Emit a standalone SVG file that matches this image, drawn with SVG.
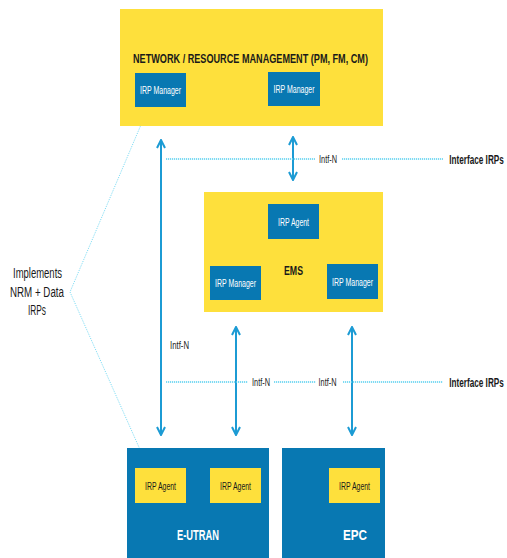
<svg xmlns="http://www.w3.org/2000/svg" width="507" height="558" viewBox="0 0 507 558">
<defs>
<style>
.yel{fill:#FEE03C}
.blu{fill:#0878B2}
.lw{font-family:"Liberation Sans",Arial,sans-serif;fill:#ffffff;text-anchor:middle}
.lk{font-family:"Liberation Sans",Arial,sans-serif;fill:#1a1a1a;text-anchor:middle}
.b{font-weight:bold}
.arr{stroke:#1C9BD4;stroke-width:2;fill:none;marker-start:url(#ah);marker-end:url(#ah)}
.dot{stroke:#55CFEF;stroke-width:1.5;stroke-dasharray:1.2 0.8;fill:none}
.dl{stroke:#7FDDF5;stroke-width:1;stroke-dasharray:1.2 1.2;fill:none}
</style>
<marker id="ah" viewBox="0 0 10 10" refX="9" refY="5" markerWidth="10" markerHeight="10" markerUnits="userSpaceOnUse" orient="auto-start-reverse">
<path d="M1,1 L9,5 L1,9" fill="none" stroke="#1C9BD4" stroke-width="2"/>
</marker>
</defs>
<rect width="507" height="558" fill="#ffffff"/>

<g id="connectors">
<line class="arr" x1="161" y1="140" x2="161" y2="435"/>
<line class="arr" x1="293" y1="137" x2="293" y2="180"/>
<line class="arr" x1="236" y1="327" x2="236" y2="435"/>
<line class="arr" x1="352" y1="327" x2="352" y2="435"/>
<line class="dot" x1="166" y1="159" x2="315" y2="159"/>
<line class="dot" x1="342" y1="159" x2="443" y2="159"/>
<line class="dot" x1="166" y1="382" x2="248" y2="382"/>
<line class="dot" x1="274" y1="382" x2="316" y2="382"/>
<line class="dot" x1="343" y1="382" x2="443" y2="382"/>
<polyline class="dl" points="146,113 70,292 146,463"/>
<text class="lk" x="328" y="163" font-size="11" textLength="18" lengthAdjust="spacingAndGlyphs">Intf-N</text>
<text class="lk" x="261" y="386" font-size="11" textLength="18" lengthAdjust="spacingAndGlyphs">Intf-N</text>
<text class="lk" x="327.5" y="386" font-size="11" textLength="18" lengthAdjust="spacingAndGlyphs">Intf-N</text>
<text class="lk" x="179.5" y="349" font-size="11" textLength="19" lengthAdjust="spacingAndGlyphs">Intf-N</text>
<text class="lk b" transform="translate(476.5,163.5) scale(1,1.45)" x="0" y="0" font-size="8.2">Interface IRPs</text>
<text class="lk b" transform="translate(476.5,386.5) scale(1,1.45)" x="0" y="0" font-size="8.2">Interface IRPs</text>
</g>

<g id="implements">
<text class="lk" x="37.5" y="278" font-size="14" textLength="49" lengthAdjust="spacingAndGlyphs">Implements</text>
<text class="lk" x="37" y="296.5" font-size="14" textLength="54" lengthAdjust="spacingAndGlyphs">NRM + Data</text>
<text class="lk" x="37" y="315" font-size="14" textLength="18" lengthAdjust="spacingAndGlyphs">IRPs</text>
</g>

<g id="nrm">
<rect class="yel" x="120" y="9" width="263" height="117"/>
<text class="lk b" x="250.5" y="62.5" font-size="13" textLength="235" lengthAdjust="spacingAndGlyphs">NETWORK / RESOURCE MANAGEMENT (PM, FM, CM)</text>
</g>
<g id="nrm-mgr1">
<rect class="blu" x="135" y="73" width="51" height="34"/>
<text class="lw" x="160.5" y="94" font-size="11" textLength="41" lengthAdjust="spacingAndGlyphs">IRP Manager</text>
</g>
<g id="nrm-mgr2">
<rect class="blu" x="268" y="72" width="52" height="34"/>
<text class="lw" x="294" y="93" font-size="11" textLength="41" lengthAdjust="spacingAndGlyphs">IRP Manager</text>
</g>

<g id="ems">
<rect class="yel" x="204" y="192" width="179" height="120"/>
<text class="lk b" x="293.5" y="274.5" font-size="13" textLength="19" lengthAdjust="spacingAndGlyphs">EMS</text>
</g>
<g id="ems-agent">
<rect class="blu" x="268" y="204" width="51" height="35"/>
<text class="lw" x="293.5" y="225.5" font-size="11" textLength="31" lengthAdjust="spacingAndGlyphs">IRP Agent</text>
</g>
<g id="ems-mgr1">
<rect class="blu" x="210" y="266" width="51" height="34"/>
<text class="lw" x="235.5" y="287" font-size="11" textLength="41" lengthAdjust="spacingAndGlyphs">IRP Manager</text>
</g>
<g id="ems-mgr2">
<rect class="blu" x="327" y="264" width="51" height="35"/>
<text class="lw" x="352.5" y="285.5" font-size="11" textLength="41" lengthAdjust="spacingAndGlyphs">IRP Manager</text>
</g>

<g id="eutran">
<rect class="blu" x="127" y="448" width="142" height="110"/>
<text class="lw b" x="198" y="540" font-size="14" textLength="42" lengthAdjust="spacingAndGlyphs">E-UTRAN</text>
</g>
<g id="eutran-agent1">
<rect class="yel" x="135" y="468" width="51" height="35"/>
<text class="lk" x="160.5" y="489.5" font-size="11" textLength="31" lengthAdjust="spacingAndGlyphs">IRP Agent</text>
</g>
<g id="eutran-agent2">
<rect class="yel" x="210" y="468" width="51" height="35"/>
<text class="lk" x="235.5" y="489.5" font-size="11" textLength="31" lengthAdjust="spacingAndGlyphs">IRP Agent</text>
</g>

<g id="epc">
<rect class="blu" x="282" y="448" width="103" height="110"/>
<text class="lw b" x="355" y="540" font-size="14" textLength="24" lengthAdjust="spacingAndGlyphs">EPC</text>
</g>
<g id="epc-agent">
<rect class="yel" x="329" y="468" width="51" height="35"/>
<text class="lk" x="354.5" y="489.5" font-size="11" textLength="31" lengthAdjust="spacingAndGlyphs">IRP Agent</text>
</g>
</svg>
